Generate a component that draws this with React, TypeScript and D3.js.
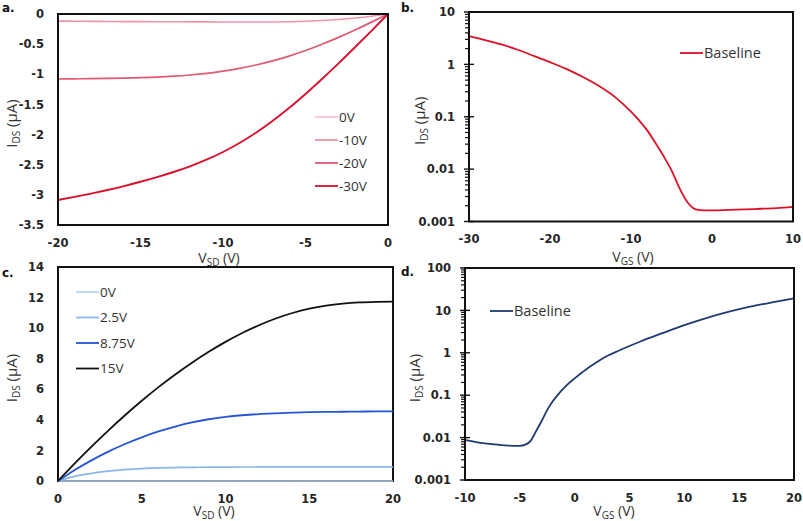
import React from "react";
import * as d3 from "d3";

// ---------- Panel a: output curves (negative side) ----------
const aVsd = [-20, -19, -18, -17, -16, -15, -14, -13, -12, -11, -10, -9, -8, -7, -6, -5, -4, -3, -2, -1, 0];
const aGate0V = [-0.004, -0.004, -0.004, -0.004, -0.004, -0.004, -0.004, -0.004, -0.004, -0.004, -0.004, -0.004, -0.004, -0.004, -0.003, -0.003, -0.003, -0.002, -0.002, -0.001, 0];
const aGateM10V = [-0.118, -0.12, -0.122, -0.124, -0.126, -0.127, -0.128, -0.129, -0.13, -0.131, -0.132, -0.133, -0.133, -0.132, -0.128, -0.12, -0.108, -0.09, -0.066, -0.036, 0];
const aGateM20V = [-1.078, -1.075, -1.072, -1.068, -1.063, -1.056, -1.046, -1.032, -1.012, -0.985, -0.949, -0.903, -0.846, -0.778, -0.698, -0.606, -0.502, -0.388, -0.265, -0.135, 0];
const aGateM30V = [-3.085, -3.034, -2.979, -2.919, -2.854, -2.783, -2.706, -2.621, -2.526, -2.417, -2.289, -2.14, -1.969, -1.775, -1.56, -1.326, -1.078, -0.819, -0.552, -0.279, 0];
const aLegend = ["0V", "-10V", "-20V", "-30V"];
const aXTicks = [-20, -15, -10, -5, 0];
const aYTicks = [0, -0.5, -1, -1.5, -2, -2.5, -3, -3.5];

// ---------- Panel b: transfer curve (log) ----------
const bVgs = [-30, -28, -26, -24, -22, -20, -18, -16, -14, -12, -10, -9, -8, -7, -6, -5, -4, -3, -2, -1, 0, 2, 4, 6, 8, 10];
const bIds = [3.45, 2.9, 2.4, 1.9, 1.45, 1.1, 0.82, 0.58, 0.39, 0.24, 0.125, 0.085, 0.055, 0.032, 0.018, 0.0095, 0.0043, 0.0023, 0.0017, 0.00163, 0.00163, 0.00166, 0.0017, 0.00175, 0.0018, 0.0019];
const bLegend = ["Baseline"];
const bXTicks = [-30, -20, -10, 0, 10];
const bYTicks = [10, 1, 0.1, 0.01, 0.001];

// ---------- Panel c: output curves (positive side) ----------
const cVsd = [0, 1, 2, 3, 4, 5, 6, 7, 8, 9, 10, 11, 12, 13, 14, 15, 16, 17, 18, 19, 20];
const cGate0V = [0, 0.005, 0.005, 0.005, 0.005, 0.005, 0.005, 0.005, 0.005, 0.005, 0.005, 0.005, 0.005, 0.005, 0.005, 0.005, 0.005, 0.005, 0.005, 0.005, 0.005];
const cGate2p5V = [0, 0.3, 0.5, 0.64, 0.74, 0.81, 0.855, 0.88, 0.895, 0.905, 0.91, 0.915, 0.918, 0.92, 0.92, 0.92, 0.92, 0.92, 0.92, 0.92, 0.92];
const cGate8p75V = [0, 0.72, 1.35, 1.92, 2.42, 2.86, 3.24, 3.56, 3.83, 4.04, 4.19, 4.3, 4.38, 4.43, 4.47, 4.5, 4.52, 4.53, 4.54, 4.55, 4.55];
const cGate15V = [0, 1.15, 2.25, 3.3, 4.3, 5.25, 6.14, 6.97, 7.74, 8.45, 9.1, 9.68, 10.19, 10.63, 10.99, 11.27, 11.47, 11.6, 11.68, 11.72, 11.74];
const cLegend = ["0V", "2.5V", "8.75V", "15V"];
const cXTicks = [0, 5, 10, 15, 20];
const cYTicks = [0, 2, 4, 6, 8, 10, 12, 14];

// ---------- Panel d: transfer curve (log) ----------
const dVgs = [-10, -9, -8, -7, -6, -5, -4.5, -4, -3.5, -3, -2.5, -2, -1.5, -1, -0.5, 0, 1, 2, 3, 4, 5, 6, 8, 10, 12, 14, 16, 18, 20];
const dIds = [0.0088, 0.0078, 0.0072, 0.0068, 0.0065, 0.0064, 0.0068, 0.0085, 0.0145, 0.025, 0.045, 0.072, 0.105, 0.145, 0.195, 0.25, 0.4, 0.6, 0.85, 1.12, 1.45, 1.85, 2.9, 4.5, 6.6, 9.2, 12.2, 15.5, 19.3];
const dLegend = ["Baseline"];
const dXTicks = [-10, -5, 0, 5, 10, 15, 20];
const dYTicks = [100, 10, 1, 0.1, 0.01, 0.001];

const TICK_FONT = "'DejaVu Sans', Verdana, sans-serif";
const TEXT_FONT = "'Open Sans', 'Noto Sans', sans-serif";

type Series = { xs: number[]; ys: number[]; color: string; width: number; opacity?: number };

type PanelProps = {
  letter: string;
  letterX: number;
  letterY: number;
  box: { x0: number; x1: number; y0: number; y1: number };
  xDomain: [number, number];
  yDomain: [number, number];
  log: boolean;
  xTicks: number[];
  yTicks: number[];
  series: Series[];
  legend: { names: string[]; colors: string[]; x: number; y: number; dy: number; size: number };
  xTitle: { main: string; sub: string; x: number; y: number };
  yTitleX: number;
  curvesOnTop: boolean;
};

function Panel(p: PanelProps) {
  const { box } = p;
  const x = d3.scaleLinear().domain(p.xDomain).range([box.x0, box.x1]);
  const y = p.log
    ? d3.scaleLog().domain(p.yDomain).range([box.y1, box.y0])
    : d3.scaleLinear().domain(p.yDomain).range([box.y1, box.y0]);

  const paths = p.series.map((s, i) => {
    const pts: [number, number][] = s.xs.map((v, k) => [v, s.ys[k]]);
    const gen = d3
      .line<[number, number]>()
      .x((d) => x(d[0]))
      .y((d) => y(d[1]))
      .curve(d3.curveMonotoneX);
    return (
      <path
        key={"s" + i}
        d={gen(pts) || ""}
        fill="none"
        stroke={s.color}
        strokeOpacity={s.opacity ?? 1}
        strokeWidth={s.width}
        strokeLinejoin="round"
      />
    );
  });

  const frame = (
    <rect
      x={box.x0}
      y={box.y0}
      width={box.x1 - box.x0}
      height={box.y1 - box.y0}
      fill="none"
      stroke="#111"
      strokeWidth={2}
    />
  );

  const minor: React.ReactNode[] = [];
  if (p.log) {
    const lo = Math.round(Math.log10(p.yDomain[0]));
    const hi = Math.round(Math.log10(p.yDomain[1]));
    for (let e = lo; e < hi; e++) {
      for (let k = 2; k <= 9; k++) {
        const v = k * Math.pow(10, e);
        const yy = y(v);
        minor.push(<line key={"m" + e + "_" + k} x1={box.x0 - 4} x2={box.x0} y1={yy} y2={yy} stroke="#111" strokeWidth={1.2} />);
      }
    }
    p.yTicks.forEach((v, i) => {
      const yy = y(v);
      minor.push(<line key={"M" + i} x1={box.x0 - 5} x2={box.x0 + 5} y1={yy} y2={yy} stroke="#111" strokeWidth={1.4} />);
    });
  }

  return (
    <g>
      <text x={p.letterX} y={p.letterY} fontFamily={TICK_FONT} fontWeight="bold" fontSize={12} fill="#111">
        {p.letter}
      </text>
      {p.curvesOnTop ? null : paths}
      {frame}
      {minor}
      {p.curvesOnTop ? paths : null}
      {p.yTicks.map((v, i) => (
        <text
          key={"yt" + i}
          x={box.x0 - 14}
          y={y(v)}
          dy="0.36em"
          textAnchor="end"
          fontFamily={TICK_FONT}
          fontWeight="bold"
          fontSize={11.5}
          fill="#252525"
        >
          {String(v)}
        </text>
      ))}
      {p.xTicks.map((v, i) => (
        <text
          key={"xt" + i}
          x={x(v)}
          y={box.y1 + 21.5}
          textAnchor="middle"
          fontFamily={TICK_FONT}
          fontWeight="bold"
          fontSize={11.5}
          fill="#252525"
        >
          {String(v)}
        </text>
      ))}
      {p.legend.names.map((n, i) => {
        const yy = p.legend.y + i * p.legend.dy;
        return (
          <g key={"lg" + i}>
            <line x1={p.legend.x} x2={p.legend.x + 23} y1={yy} y2={yy} stroke={p.legend.colors[i]} strokeWidth={1.8} />
            <text
              x={p.legend.x + 24}
              y={yy}
              dy="0.36em"
              fontFamily={TEXT_FONT}
              fontSize={p.legend.size}
              fill="#333"
            >
              {n}
            </text>
          </g>
        );
      })}
      <text x={p.xTitle.x} y={p.xTitle.y} textAnchor="middle" fontFamily={TEXT_FONT} fontSize={14} fill="#333">
        {p.xTitle.main}
        <tspan fontSize={10} dy={2.5}>
          {p.xTitle.sub}
        </tspan>
        <tspan dy={-2.5}>{" (V)"}</tspan>
      </text>
      <text
        transform={`translate(${p.yTitleX},${(box.y0 + box.y1) / 2 + 4}) rotate(-90)`}
        textAnchor="middle"
        fontFamily={TEXT_FONT}
        fontSize={15}
        fill="#333"
      >
        I
        <tspan fontSize={10} dy={3}>
          DS
        </tspan>
        <tspan dy={-3}>{" (μA)"}</tspan>
      </text>
    </g>
  );
}

const aColors = ["#f8c4d0", "#f095a8", "#e05a74", "#d8102c"];
const cColors = ["#bcd6f2", "#8ab6ee", "#2554d4", "#111111"];
const bColor = "#dc1026";
const dColor = "#1f3a72";

export default function App() {
  return (
    <div style={{ position: "absolute", left: 0, top: 0, width: 803, height: 521, background: "#fff" }}>
      <svg width={803} height={521} viewBox="0 0 803 521" style={{ display: "block" }}>
        <rect x={0} y={0} width={803} height={521} fill="#fff" />
        <Panel
          letter="a."
          letterX={2}
          letterY={12}
          box={{ x0: 58, x1: 388, y0: 14, y1: 225 }}
          xDomain={[-20, 0]}
          yDomain={[-3.5, 0]}
          log={false}
          xTicks={aXTicks}
          yTicks={aYTicks}
          series={[
            { xs: aVsd, ys: aGate0V, color: aColors[0], width: 1.6 },
            { xs: aVsd, ys: aGateM10V, color: aColors[1], width: 1.6 },
            { xs: aVsd, ys: aGateM20V, color: aColors[2], width: 1.7 },
            { xs: aVsd, ys: aGateM30V, color: aColors[3], width: 1.9 },
          ]}
          legend={{ names: aLegend, colors: aColors, x: 315, y: 117, dy: 23, size: 13.5 }}
          xTitle={{ main: "V", sub: "SD", x: 219, y: 263 }}
          yTitleX={17}
          curvesOnTop={false}
        />
        <Panel
          letter="b."
          letterX={401}
          letterY={12}
          box={{ x0: 469, x1: 793, y0: 12, y1: 221.5 }}
          xDomain={[-30, 10]}
          yDomain={[0.001, 10]}
          log={true}
          xTicks={bXTicks}
          yTicks={bYTicks}
          series={[{ xs: bVgs, ys: bIds, color: bColor, width: 1.8 }]}
          legend={{ names: bLegend, colors: [bColor], x: 680, y: 53, dy: 0, size: 14.5 }}
          xTitle={{ main: "V", sub: "GS", x: 633, y: 262 }}
          yTitleX={425}
          curvesOnTop={false}
        />
        <Panel
          letter="c."
          letterX={2}
          letterY={277}
          box={{ x0: 58, x1: 393, y0: 267, y1: 481 }}
          xDomain={[0, 20]}
          yDomain={[0, 14]}
          log={false}
          xTicks={cXTicks}
          yTicks={cYTicks}
          series={[
            { xs: cVsd, ys: cGate0V, color: cColors[0], width: 2, opacity: 0.75 },
            { xs: cVsd, ys: cGate2p5V, color: cColors[1], width: 1.7 },
            { xs: cVsd, ys: cGate8p75V, color: cColors[2], width: 1.8 },
            { xs: cVsd, ys: cGate15V, color: cColors[3], width: 1.8 },
          ]}
          legend={{ names: cLegend, colors: cColors, x: 76, y: 292, dy: 25.5, size: 13.5 }}
          xTitle={{ main: "V", sub: "SD", x: 214, y: 516 }}
          yTitleX={17}
          curvesOnTop={true}
        />
        <Panel
          letter="d."
          letterX={401}
          letterY={276}
          box={{ x0: 465, x1: 794, y0: 268, y1: 480 }}
          xDomain={[-10, 20]}
          yDomain={[0.001, 100]}
          log={true}
          xTicks={dXTicks}
          yTicks={dYTicks}
          series={[{ xs: dVgs, ys: dIds, color: dColor, width: 1.8 }]}
          legend={{ names: dLegend, colors: [dColor], x: 490, y: 311, dy: 0, size: 14.5 }}
          xTitle={{ main: "V", sub: "GS", x: 614, y: 516 }}
          yTitleX={420}
          curvesOnTop={false}
        />
      </svg>
    </div>
  );
}
